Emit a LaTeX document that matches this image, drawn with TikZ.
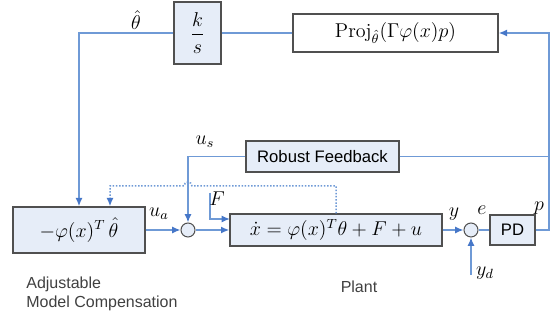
\documentclass[tikz,border=0pt]{standalone}
\usepackage{amsmath}
\usepackage{fontspec}
\setsansfont{Liberation Sans}
\usepackage{tikz}
\usetikzlibrary{arrows.meta}
\definecolor{sigblue}{HTML}{6F9AD6}
\definecolor{tipblue}{HTML}{4677C8}
\definecolor{boxfill}{HTML}{E6EDF8}
\definecolor{boxline}{HTML}{505050}

\begin{document}
\begin{tikzpicture}[x=0.6pt, y=-0.6pt,
				      block/.style = {shape=rectangle, draw=boxline, line width=0.8pt,
						      fill=boxfill, inner sep=0pt, align=center, font=\large},
				      sumnode/.style = {shape=circle, draw=boxline, line width=0.6pt,
						      fill=boxfill, minimum size=8.4pt, inner sep=0pt},
				      sig/.style = {draw=sigblue, line width=0.9pt},
				      tip/.style = {-{Latex[length=5pt,width=4.2pt,color=tipblue]}},
				      dotsig/.style = {sig, densely dotted},
				      lbl/.style = {inner sep=0pt, font=\large},
				      note/.style = {font=\sffamily\fontsize{9.6}{11.5}\selectfont, text=black!75, align=left, inner sep=0pt}
			      ]
			      \useasboundingbox (0,0) rectangle (556,320);

			      \node[block, minimum width=28.2pt, minimum height=37.2pt] (ks) at (197.5,33) {$\dfrac{k}{s}$};
			      \node[block, fill=white, minimum width=123pt, minimum height=22.8pt] (proj) at (395.5,33)
				      {$\mathrm{Proj}_{\hat\theta}(\Gamma\varphi(x)p)$};
			      \node[block, minimum width=79.2pt, minimum height=27.6pt] (amc) at (79,230) {$-\varphi(x)^T\,\hat\theta$};
			      \node[block, minimum width=91.8pt, minimum height=18.6pt, font=\sffamily] (rf) at (322.5,156.5) {Robust Feedback};
			      \node[sumnode] (sum1) at (188,230) {};
			      \node[block, minimum width=127.2pt, minimum height=19.2pt] (plant) at (336,230)
				      {$\dot{x}=\varphi(x)^T\theta+F+u$};
			      \node[sumnode] (sum2) at (471,230) {};
			      \node[block, minimum width=27pt, minimum height=18pt, font=\sffamily] (pd) at (512.5,230) {PD};

			      \coordinate (pr) at (549,230);
			      \coordinate (fsrc) at (210,193);
			      \coordinate (fin) at (230,219);
			      \coordinate (yd) at (471,275);
			      \coordinate (dk) at (110,186);

			      \draw[sig, tip] (ks.west) -| (amc.north);
			      \draw[sig] (proj.west) -- (ks.east);
			      \draw[sig, tip] (pd.east) -- (pr) |- (proj.east);
			      \draw[sig] (rf.east) -- (rf.east -| pr);
			      \draw[sig, tip] (rf.west) -| (sum1.north);
			      \draw[sig, tip] (amc.east) -- (sum1.west);
			      \draw[sig, tip] (sum1.east) -- (plant.west);
			      \draw[sig, tip] (fsrc) |- (fin);
			      \draw[sig, tip] (plant.east) -- (sum2.west);
			      \draw[sig] (sum2.east) -- (pd.west);
			      \draw[sig, tip] (yd) -- (sum2.south);
			      \draw[dotsig, tip] (plant.north) -- (plant.north |- dk) -- (192,186)
				      arc[start angle=0, end angle=180, radius=2.4pt] -- (dk) -- (dk |- amc.north);

			      \node[lbl] (lth) at (136,20) {$\hat\theta$};
			      \node[lbl] (lua) at (159,214) {$u_a$};
			      \node[lbl] (lus) at (205,142) {$u_s$};
			      \node[lbl] (lf) at (217,199) {$F$};
			      \node[lbl] (ly) at (454,214) {$y$};
			      \node[lbl] (le) at (482,210) {$e$};
			      \node[lbl] (lp) at (539,208) {$p$};
			      \node[lbl] (lyd) at (485,273) {$y_d$};
			      \node[note, anchor=west] (amcnote) at (26,294) {Adjustable\\Model Compensation};
			      \node[note] (plantnote) at (359,287) {Plant};
		      \end{tikzpicture}
\end{document}
